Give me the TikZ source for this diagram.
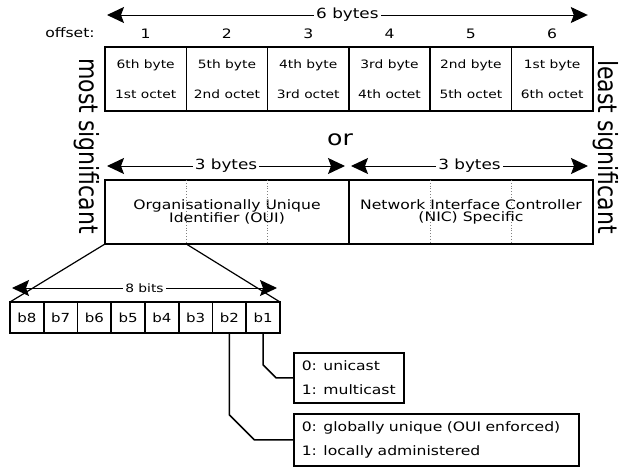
\documentclass[tikz,border=0pt]{standalone}
\usepackage{fontspec}
\setmainfont{DejaVu Sans}[FakeStretch=1.2]
\newfontfamily\sidefont{DejaVu Sans}
\usetikzlibrary{positioning, arrows.meta}
\tikzset{
bytecell/.style={draw, line width=1.6pt, minimum width=81.3pt, minimum height=64pt, outer sep=0pt, align=center, font=\fontsize{11.5}{13}\selectfont}, % one octet of the address
half/.style={draw, line width=1.6pt, minimum width=244pt, minimum height=64pt, outer sep=0pt, align=center, font=\fontsize{13}{11.5}\selectfont}, % OUI / NIC part
bitcell/.style={draw, line width=1.6pt, minimum width=33.75pt, minimum height=31pt, outer sep=0pt, font=\fontsize{12.5}{14}\selectfont}, % one bit
note/.style={draw, line width=1.6pt, anchor=north west, align=left, inner xsep=8pt, font=\fontsize{13}{15}\selectfont}, % meaning of a bit
tip/.tip={Stealth[length=17pt, width=16pt, inset=3pt]}, % big filled arrow head
span/.style={tip-tip, line width=1pt}, % size arrows
lbl/.style={fill=white, inner sep=2pt, font=\fontsize{14}{16}\selectfont}, % text on the size arrows
divider/.style={dotted, line width=0.8pt, gray}, % byte borders inside OUI / NIC
wire/.style={line width=1.6pt}, % bit to note
}

\begin{document}
\begin{tikzpicture}[x=1pt, y=-1pt]
    \useasboundingbox (0,0) rectangle (619,469);
    % the six octets
    \node[bytecell, anchor=north west] (c1) at (105,47) {6th byte\\[17pt]1st octet};
    \node[bytecell, right=0pt of c1] (c2) {5th byte\\[17pt]2nd octet};
    \node[bytecell, right=0pt of c2] (c3) {4th byte\\[17pt]3rd octet};
    \node[bytecell, right=0pt of c3] (c4) {3rd byte\\[17pt]4th octet};
    \node[bytecell, right=0pt of c4] (c5) {2nd byte\\[17pt]5th octet};
    \node[bytecell, right=0pt of c5] (c6) {1st byte\\[17pt]6th octet};
    \node[font=\fontsize{13}{15}\selectfont] (offs) at (70,33) {offset:};
    \node[above=5pt of c1, font=\fontsize{13}{15}\selectfont] (o1) {1};
    \node[above=5pt of c2, font=\fontsize{13}{15}\selectfont] (o2) {2};
    \node[above=5pt of c3, font=\fontsize{13}{15}\selectfont] (o3) {3};
    \node[above=5pt of c4, font=\fontsize{13}{15}\selectfont] (o4) {4};
    \node[above=5pt of c5, font=\fontsize{13}{15}\selectfont] (o5) {5};
    \node[above=5pt of c6, font=\fontsize{13}{15}\selectfont] (o6) {6};
    \draw[span] ([xshift=2pt, yshift=32pt]c1.north west) -- node[lbl]{6 bytes} ([xshift=-5pt, yshift=32pt]c6.north east);

    \node[font=\fontsize{21}{24}\selectfont] (or) at (340,140) {or};

    % OUI and NIC halves
    \node[half, anchor=north west] (oui) at ([yshift=-69pt]c1.south west) {Organisationally Unique\\Identifier (OUI)};
    \node[half, right=0pt of oui] (nic) {Network Interface Controller\\(NIC) Specific};
    \draw[divider] (c2.west |- oui.north) -- (c2.west |- oui.south);
    \draw[divider] (c3.west |- oui.north) -- (c3.west |- oui.south);
    \draw[divider] (c5.west |- nic.north) -- (c5.west |- nic.south);
    \draw[divider] (c6.west |- nic.north) -- (c6.west |- nic.south);
    \draw[span] ([xshift=2pt, yshift=14pt]oui.north west) -- node[lbl]{3 bytes} ([xshift=-4pt, yshift=14pt]oui.north east);
    \draw[span] ([xshift=2pt, yshift=14pt]nic.north west) -- node[lbl]{3 bytes} ([xshift=-5pt, yshift=14pt]nic.north east);

    \node[rotate=-90, font=\sidefont\fontsize{22}{24}\selectfont] (most) at (87,146) {\scalebox{1}[1.2]{most significant}};
    \node[rotate=-90, font=\sidefont\fontsize{22}{24}\selectfont] (least) at (606,147) {\scalebox{1}[1.2]{least significant}};

    % bits of the first octet
    \node[bitcell, anchor=north west] (b8) at (10,302) {b8};
    \node[bitcell, right=0pt of b8] (b7) {b7};
    \node[bitcell, right=0pt of b7] (b6) {b6};
    \node[bitcell, right=0pt of b6] (b5) {b5};
    \node[bitcell, right=0pt of b5] (b4) {b4};
    \node[bitcell, right=0pt of b4] (b3) {b3};
    \node[bitcell, right=0pt of b3] (b2) {b2};
    \node[bitcell, right=0pt of b2] (b1) {b1};
    \draw[line width=1.2pt] (oui.south west) -- (b8.north west);
    \draw[line width=1.2pt] (c2.west |- oui.south) -- (b1.north east);
    \draw[span] ([xshift=2pt, yshift=14pt]b8.north west) -- node[lbl, font=\fontsize{11.5}{13}\selectfont]{8 bits} ([xshift=-3pt, yshift=14pt]b1.north east);

    % what b1 and b2 mean
    \node[note, text width=94pt, minimum height=50pt] (cast) at (293,352) {0: unicast\\[9pt]1: multicast};
    \node[note, text width=269pt, minimum height=52pt] (admin) at (293,413) {0: globally unique (OUI enforced)\\[9pt]1: locally administered};
    \draw[wire] (b1.south) -- ([yshift=13pt]b1.south |- cast.west) -- ([xshift=13pt]b1.south |- cast.west) -- (cast.west);
    \draw[wire] (b2.south) -- ([yshift=25pt]b2.south |- admin.west) -- ([xshift=25pt]b2.south |- admin.west) -- (admin.west);
\end{tikzpicture}
\end{document}
